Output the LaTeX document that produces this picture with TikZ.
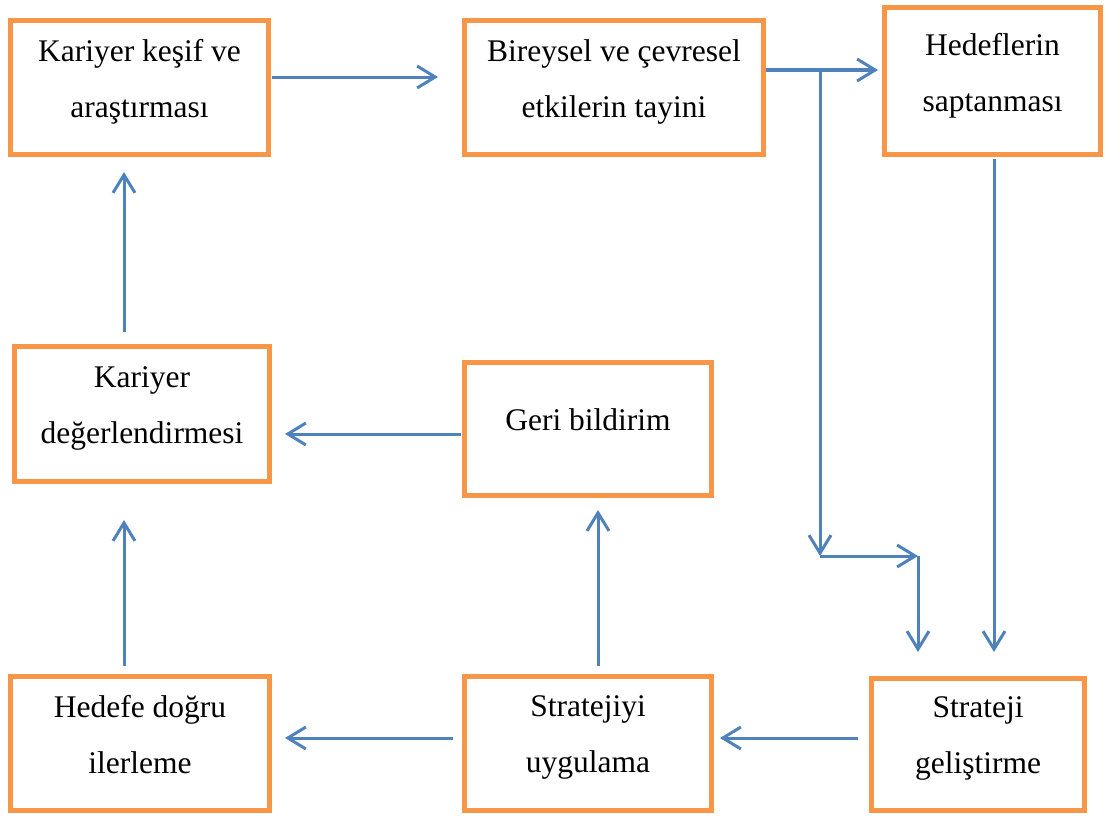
\documentclass[tikz,border=0pt]{standalone}
\usepackage{fontspec}
\setmainfont{Liberation Serif}
\usetikzlibrary{arrows.meta, positioning, calc}
\definecolor{turuncu}{HTML}{F79646}
\definecolor{mavi}{HTML}{4F81BD}

\begin{document}
\begin{tikzpicture}[x=1pt, y=-1pt,
    kutu/.style={draw=turuncu, line width=5pt, fill=white, align=center, inner sep=0pt,
        text depth=18pt, font=\fontsize{31.5}{56}\selectfont},
    ok/.style={draw=mavi, line width=3pt, -{Straight Barb[length=18pt, width=22pt, line width=3pt]}}]
    \useasboundingbox (0,0) rectangle (1105,816);

    \node[kutu, minimum width=258pt, minimum height=134pt] (kesif) at (139.5,87.5) {Kariyer keşif ve\\araştırması};
    \node[kutu, minimum width=299pt, minimum height=134pt] (etki) at (614,87.5) {Bireysel ve çevresel\\etkilerin tayini};
    \node[kutu, minimum width=216pt, minimum height=147pt] (hedef) at (992.5,81) {Hedeflerin\\saptanması};
    \node[kutu, minimum width=255pt, minimum height=135pt] (deger) at (142,414) {Kariyer\\değerlendirmesi};
    \node[kutu, minimum width=247pt, minimum height=133pt] (geri) at (588,429) {Geri bildirim};
    \node[kutu, minimum width=259pt, minimum height=134pt] (ilerle) at (140,743.5) {Hedefe doğru\\ilerleme};
    \node[kutu, minimum width=247pt, minimum height=134pt] (uygula) at (588,743.5) {Stratejiyi\\uygulama};
    \node[kutu, minimum width=213pt, minimum height=132pt] (gelis) at (978,744.5) {Strateji\\geliştirme};

    % ust sira
    \draw[ok, shorten <=1pt, shorten >=24pt] (kesif.east |- 0,77) -- (etki.west |- 0,77);
    \draw[ok, shorten >=4pt] (etki.east |- 0,70) -- (hedef.west |- 0,70);

    % sag taraftaki kol
    \coordinate (dal) at (820,70);
    \coordinate (dalalt) at (820,556);
    \coordinate (kose) at (918,556);
    \draw[ok] (dal) -- (dalalt);
    \draw[ok] (dalalt) -- (kose);
    \draw[ok, shorten >=24pt] (kose) -- (kose |- gelis.north);
    \draw[ok, shorten <=2pt, shorten >=24pt] (hedef.south -| 994,0) -- (gelis.north -| 994,0);

    % alt sira
    \draw[ok, shorten <=11pt, shorten >=6pt] (gelis.west |- 0,738) -- (uygula.east |- 0,738);
    \draw[ok, shorten <=9pt, shorten >=13pt] (uygula.west |- 0,738) -- (ilerle.east |- 0,738);

    % yukari
    \draw[ok, shorten <=8pt, shorten >=12pt] (uygula.north -| 598,0) -- (geri.south -| 598,0);
    \draw[ok, shorten <=1pt, shorten >=13pt] (geri.west |- 0,434) -- (deger.east |- 0,434);
    \draw[ok, shorten <=8pt, shorten >=36pt] (ilerle.north -| 124,0) -- (deger.south -| 124,0);
    \draw[ok, shorten <=12pt, shorten >=15pt] (deger.north -| 124,0) -- (kesif.south -| 124,0);
\end{tikzpicture}
\end{document}
